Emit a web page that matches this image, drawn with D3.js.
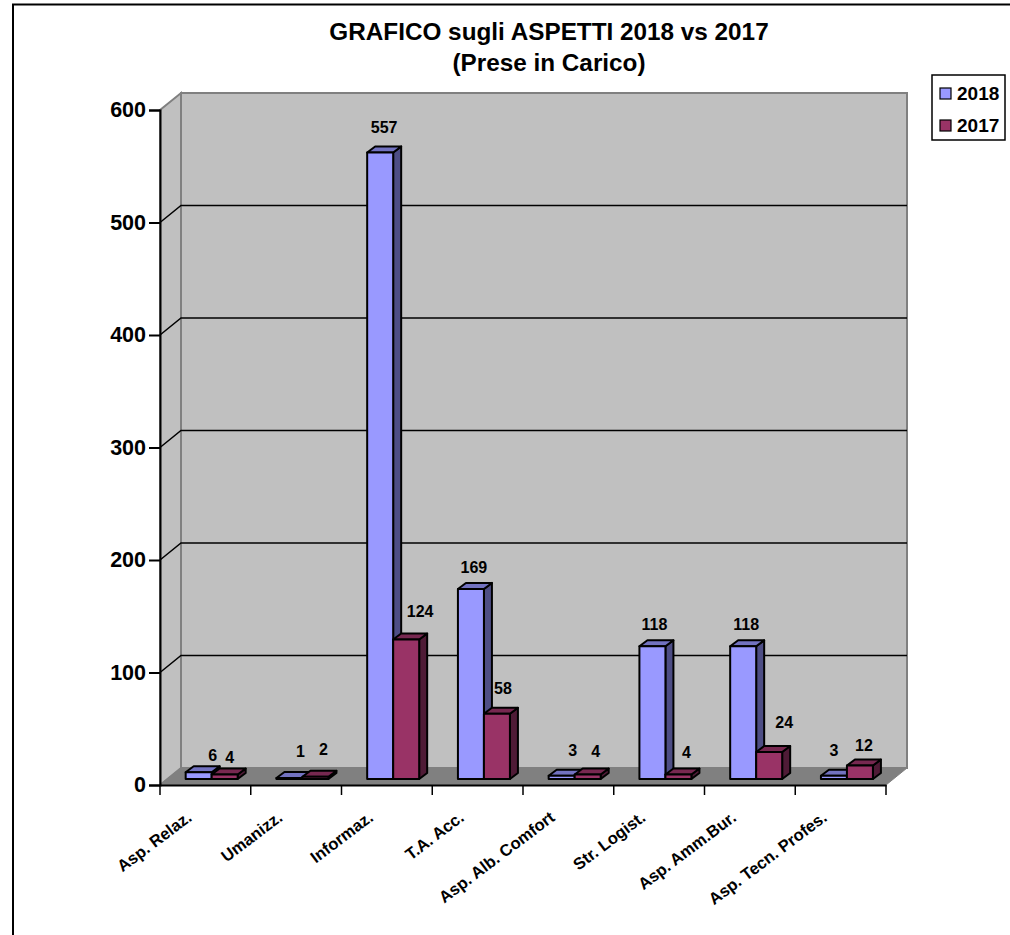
<!DOCTYPE html>
<html>
<head>
<meta charset="utf-8">
<script src="https://cdnjs.cloudflare.com/ajax/libs/d3/7.8.5/d3.min.js"></script>
<style>
  html, body { margin: 0; padding: 0; background: #fff; overflow: hidden; }
  svg { display: block; font-family: "Liberation Sans", Arial, sans-serif; font-weight: bold; }
</style>
</head>
<body>
<div id="chart"></div>
<script>
const categories = ["Asp. Relaz.", "Umanizz.", "Informaz.", "T.A. Acc.", "Asp. Alb. Comfort", "Str. Logist.", "Asp. Amm.Bur.", "Asp. Tecn. Profes."];
const seriesNames = ["2018", "2017"];
const values2018 = [6, 1, 557, 169, 3, 118, 118, 3];
const values2017 = [4, 2, 124, 58, 4, 4, 24, 12];
const yTicks = [0, 100, 200, 300, 400, 500, 600];

// hand moved labels in the original, offsets from the top centre of each bar
const labelNudge2018 = [[10, -11], [7, -21], [0, -19], [-1, -16], [7, -19], [-2, -16], [-1, -16], [-4, -19]];
const labelNudge2017 = [[1, -11], [4, -21], [10, -22], [2, -19], [4, -17], [4, -16], [11, -24], [0, -14]];

const width = 1010;
const height = 935;
const plotLeft = 160, plotRight = 886, plotBottom = 785, plotTop = 110;
const wallDx = 21, wallDy = -17; // depth of the whole 3d box
const barDx = 8, barDy = -6; // depth of one bar
const barWidth = 26;

const colors = {
  "2018": { front: "#9999ff", top: "#7272c0", side: "#4e4e85" },
  "2017": { front: "#993366", top: "#772850", side: "#4f1b36" },
};

const svg = d3.select("#chart").append("svg").attr("width", width).attr("height", height);

const x = d3.scaleBand().domain(categories).range([plotLeft, plotRight]);
const y = d3.scaleLinear().domain([0, 600]).range([plotBottom, plotTop]);

const poly = (pts) => "M" + pts.map((p) => p.join(",")).join("L") + "Z";

// outer frame, runs off the picture on the right and at the bottom
svg.append("rect")
  .attr("x", 13).attr("y", 4.5)
  .attr("width", width + 20).attr("height", height + 20)
  .attr("fill", "#fff").attr("stroke", "#000").attr("stroke-width", 2);

// walls and floor
svg.append("path")
  .attr("d", poly([[plotLeft + wallDx, plotTop + wallDy], [plotRight + wallDx, plotTop + wallDy], [plotRight + wallDx, plotBottom + wallDy], [plotLeft + wallDx, plotBottom + wallDy]]))
  .attr("fill", "#c0c0c0").attr("stroke", "#808080").attr("stroke-width", 2);
svg.append("path")
  .attr("d", poly([[plotLeft, plotTop], [plotLeft + wallDx, plotTop + wallDy], [plotLeft + wallDx, plotBottom + wallDy], [plotLeft, plotBottom]]))
  .attr("fill", "#c0c0c0").attr("stroke", "#808080").attr("stroke-width", 2);
svg.append("path")
  .attr("d", poly([[plotLeft, plotBottom], [plotLeft + wallDx, plotBottom + wallDy], [plotRight + wallDx, plotBottom + wallDy], [plotRight, plotBottom]]))
  .attr("fill", "#808080").attr("stroke", "#808080").attr("stroke-width", 1);

// gridlines along the side wall and the back wall
const grid = svg.append("g").attr("fill", "none").attr("stroke", "#000").attr("stroke-width", 1.5);
grid.selectAll("path")
  .data(yTicks.filter((d) => d > 0 && d < 600))
  .enter()
  .append("path")
  .attr("d", (d) => `M${plotLeft},${y(d)}L${plotLeft + wallDx},${y(d) + wallDy}L${plotRight + wallDx},${y(d) + wallDy}`);

// bars
const rows = [];
categories.forEach((c, i) => {
  seriesNames.forEach((s, j) => {
    const value = (j === 0 ? values2018 : values2017)[i];
    const nudge = (j === 0 ? labelNudge2018 : labelNudge2017)[i];
    rows.push({ c, s, j, value, nudge });
  });
});

const barX = (d) => x(d.c) + (x.bandwidth() - 2 * barWidth) / 2 + wallDx * 0.3 + d.j * barWidth;
const barBase = plotBottom + wallDy * 0.35;
const barTop = (d) => barBase - (y(0) - y(d.value));

const bars = svg.append("g").selectAll("g")
  .data(rows)
  .enter()
  .append("g")
  .attr("stroke", "#000")
  .attr("stroke-width", 2)
  .attr("stroke-linejoin", "round");

bars.append("path")
  .attr("d", (d) => {
    const x1 = barX(d) + barWidth;
    return poly([[x1, barTop(d)], [x1 + barDx, barTop(d) + barDy], [x1 + barDx, barBase + barDy], [x1, barBase]]);
  })
  .attr("fill", (d) => colors[d.s].side);

bars.append("path")
  .attr("d", (d) => {
    const x0 = barX(d), x1 = x0 + barWidth, t = barTop(d);
    return poly([[x0, t], [x0 + barDx, t + barDy], [x1 + barDx, t + barDy], [x1, t]]);
  })
  .attr("fill", (d) => colors[d.s].top);

bars.append("rect")
  .attr("x", barX)
  .attr("y", barTop)
  .attr("width", barWidth)
  .attr("height", (d) => barBase - barTop(d))
  .attr("fill", (d) => colors[d.s].front);

// data labels
svg.append("g").selectAll("text")
  .data(rows)
  .enter()
  .append("text")
  .attr("x", (d) => barX(d) + barWidth / 2 + barDx / 2 + d.nudge[0])
  .attr("y", (d) => barTop(d) + barDy + d.nudge[1])
  .attr("dy", "0.35em")
  .attr("text-anchor", "middle")
  .style("font-size", "16px")
  .text((d) => d.value);

// axes
const yAxis = svg.append("g")
  .attr("transform", `translate(${plotLeft},0)`)
  .call(d3.axisLeft(y).tickValues(yTicks).tickSize(11).tickPadding(3));
yAxis.select(".domain").attr("stroke", "#000").attr("stroke-width", 2);
yAxis.selectAll("line").attr("stroke", "#000").attr("stroke-width", 2);
yAxis.selectAll("text").style("font-size", "21.5px").attr("fill", "#000");

const xAxis = svg.append("g")
  .attr("transform", `translate(0,${plotBottom})`)
  .call(d3.axisBottom(x).tickSize(0));
xAxis.select(".domain").attr("stroke", "#000").attr("stroke-width", 2);
xAxis.selectAll("line").remove();
xAxis.selectAll("text")
  .attr("transform", "translate(-16,30) rotate(-37)")
  .attr("text-anchor", "end")
  .attr("x", 0).attr("y", 0).attr("dy", "0.35em")
  .attr("fill", "#000")
  .style("font-size", "16.5px");

svg.append("g").selectAll("line")
  .data(categories.concat(["end"]))
  .enter()
  .append("line")
  .attr("x1", (d) => (d === "end" ? plotRight : x(d)))
  .attr("x2", (d) => (d === "end" ? plotRight : x(d)))
  .attr("y1", plotBottom)
  .attr("y2", plotBottom + 10)
  .attr("stroke", "#000")
  .attr("stroke-width", 1.5);

// title
const title = svg.append("text")
  .attr("text-anchor", "middle")
  .style("font-size", "24.3px");
title.append("tspan").attr("x", 549).attr("y", 40).text("GRAFICO sugli ASPETTI 2018 vs 2017");
title.append("tspan").attr("x", 549).attr("y", 71).text("(Prese in Carico)");

// legend
const legend = svg.append("g");
legend.append("rect")
  .attr("x", 932).attr("y", 75)
  .attr("width", 73).attr("height", 65)
  .attr("fill", "#fff").attr("stroke", "#000").attr("stroke-width", 1.5);
const legendY = d3.scalePoint().domain(seriesNames).range([93, 125]);
const legendRow = legend.selectAll(".row")
  .data(seriesNames)
  .enter()
  .append("g")
  .attr("class", "row")
  .attr("transform", (d) => `translate(940,${legendY(d)})`);
legendRow.append("rect")
  .attr("x", 0).attr("y", -5)
  .attr("width", 11).attr("height", 11)
  .attr("fill", (d) => colors[d].front)
  .attr("stroke", "#000").attr("stroke-width", 1.2);
legendRow.append("text")
  .attr("x", 17).attr("dy", "0.37em")
  .style("font-size", "19px")
  .text((d) => d);
</script>
</body>
</html>
